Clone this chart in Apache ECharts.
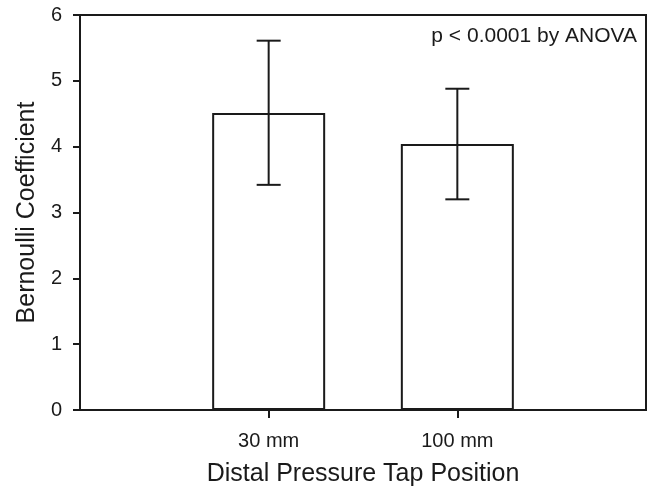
<!DOCTYPE html>
<html>
<head>
<meta charset="utf-8">
<script src="https://cdn.jsdelivr.net/npm/echarts@6/dist/echarts.min.js"></script>
<style>
  html, body { margin: 0; padding: 0; background: #fff; }
  #chart { width: 653px; height: 492px; }
</style>
</head>
<body>
<div id="chart"></div>
<script>
// data
const categories = ['30 mm', '100 mm']
const means = [4.51, 4.04]
const errLow = [3.42, 3.20]
const errHigh = [5.61, 4.88]
const yTicks = [0, 1, 2, 3, 4, 5, 6]

// empty slots either side so the two bars sit at 1/3 and 2/3 of the width
const axisData = [''].concat(categories, [' '])
const barData = ['-'].concat(means, ['-'])
const errData = categories.map((c, i) => [i + 1, errLow[i], errHigh[i]])

const ink = '#1a1a1a'
const font = 'Liberation Sans, Arial, sans-serif'

const chart = echarts.init(document.getElementById('chart'))

const options = {
  animation: false,
  grid: {
    left: 80, right: 7, top: 15, bottom: 81,
    show: true,
    borderColor: ink,
    borderWidth: 2,
    backgroundColor: 'transparent'
  },
  xAxis: {
    type: 'category',
    data: axisData,
    boundaryGap: false,
    name: 'Distal Pressure Tap Position',
    nameLocation: 'middle',
    nameGap: 52,
    nameTextStyle: { color: ink, fontSize: 25, fontFamily: font },
    axisLine: { lineStyle: { color: ink, width: 2 } },
    axisTick: {
      length: 8,
      interval: (i) => i > 0 && i < axisData.length - 1,
      lineStyle: { color: ink, width: 2 }
    },
    axisLabel: {
      interval: (i) => i > 0 && i < axisData.length - 1,
      color: ink,
      fontSize: 20,
      fontFamily: font,
      margin: 21
    },
    splitLine: { show: false }
  },
  yAxis: {
    type: 'value',
    min: yTicks[0],
    max: yTicks[yTicks.length - 1],
    interval: 1,
    name: 'Bernoulli Coefficient',
    nameLocation: 'middle',
    nameGap: 40,
    nameTextStyle: { color: ink, fontSize: 25, fontFamily: font },
    axisLine: { show: true, lineStyle: { color: ink, width: 2 } },
    axisTick: { show: true, length: 7, lineStyle: { color: ink, width: 2 } },
    axisLabel: { color: ink, fontSize: 20, fontFamily: font, margin: 18 },
    splitLine: { show: false }
  },
  graphic: [{
    type: 'text',
    right: 16,
    top: 26,
    style: {
      text: 'p < 0.0001 by ANOVA',
      fill: ink,
      font: '21px ' + font
    }
  }],
  series: [{
    type: 'bar',
    barWidth: 113,
    itemStyle: { color: '#fff', borderColor: ink, borderWidth: 2 },
    data: barData,
    z: 2
  }, {
    type: 'custom',
    data: errData,
    z: 3,
    renderItem: (params, api) => {
      const lo = api.coord([api.value(0), api.value(1)])
      const hi = api.coord([api.value(0), api.value(2)])
      const half = 12
      const style = { stroke: ink, lineWidth: 2 }
      return {
        type: 'group',
        children: [
          { type: 'line', shape: { x1: hi[0], y1: hi[1], x2: lo[0], y2: lo[1] }, style },
          { type: 'line', shape: { x1: hi[0] - half, y1: hi[1], x2: hi[0] + half, y2: hi[1] }, style },
          { type: 'line', shape: { x1: lo[0] - half, y1: lo[1], x2: lo[0] + half, y2: lo[1] }, style }
        ]
      }
    }
  }]
}

chart.setOption(options, true)
</script>
</body>
</html>
